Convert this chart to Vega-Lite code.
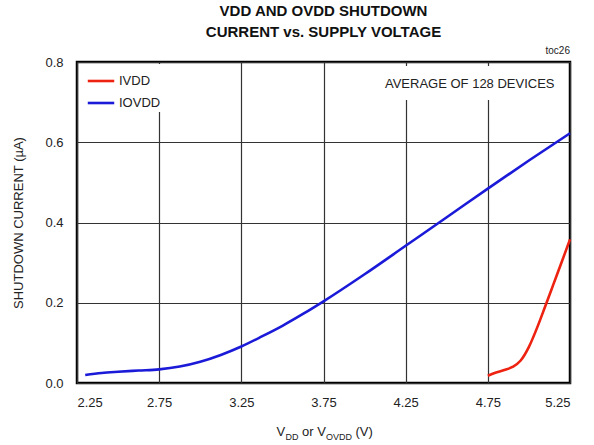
{
  "$schema": "https://vega.github.io/schema/vega-lite/v6.json",
  "autosize": "none",
  "width": 493,
  "height": 321,
  "padding": {"left": 77, "top": 62, "right": 24, "bottom": 62},
  "background": "white",
  "title": {
    "text": ["VDD AND OVDD SHUTDOWN", "CURRENT vs. SUPPLY VOLTAGE"],
    "font": "Liberation Sans",
    "fontWeight": "bold",
    "fontSize": 15,
    "lineHeight": 21,
    "color": "#111",
    "anchor": "middle",
    "frame": "group",
    "offset": 6
  },
  "config": {
    "view": {"stroke": "black", "strokeWidth": 2.5},
    "font": "Liberation Sans",
    "axis": {
      "labelFont": "Liberation Sans",
      "titleFont": "Liberation Sans",
      "labelFontSize": 13,
      "labelColor": "#222",
      "titleColor": "#222",
      "titleFontWeight": "normal",
      "ticks": false,
      "domain": false,
      "grid": true,
      "gridColor": "#333",
      "gridWidth": 1.2,
      "gridOpacity": 1
    }
  },
  "data": {
    "values": [
      {"v": 2.30, "i": 0.020, "series": "IOVDD"},
      {"v": 2.40, "i": 0.025, "series": "IOVDD"},
      {"v": 2.50, "i": 0.028, "series": "IOVDD"},
      {"v": 2.625, "i": 0.031, "series": "IOVDD"},
      {"v": 2.75, "i": 0.034, "series": "IOVDD"},
      {"v": 2.875, "i": 0.041, "series": "IOVDD"},
      {"v": 3.00, "i": 0.053, "series": "IOVDD"},
      {"v": 3.125, "i": 0.070, "series": "IOVDD"},
      {"v": 3.25, "i": 0.091, "series": "IOVDD"},
      {"v": 3.375, "i": 0.116, "series": "IOVDD"},
      {"v": 3.50, "i": 0.1425, "series": "IOVDD"},
      {"v": 3.625, "i": 0.172, "series": "IOVDD"},
      {"v": 3.75, "i": 0.2035, "series": "IOVDD"},
      {"v": 4.00, "i": 0.271, "series": "IOVDD"},
      {"v": 4.25, "i": 0.342, "series": "IOVDD"},
      {"v": 4.50, "i": 0.413, "series": "IOVDD"},
      {"v": 4.75, "i": 0.4845, "series": "IOVDD"},
      {"v": 5.00, "i": 0.5545, "series": "IOVDD"},
      {"v": 5.25, "i": 0.6225, "series": "IOVDD"},
      {"v": 4.75, "i": 0.018, "series": "IVDD"},
      {"v": 4.80, "i": 0.026, "series": "IVDD"},
      {"v": 4.85, "i": 0.0325, "series": "IVDD"},
      {"v": 4.90, "i": 0.040, "series": "IVDD"},
      {"v": 4.95, "i": 0.056, "series": "IVDD"},
      {"v": 5.00, "i": 0.090, "series": "IVDD"},
      {"v": 5.05, "i": 0.138, "series": "IVDD"},
      {"v": 5.10, "i": 0.192, "series": "IVDD"},
      {"v": 5.15, "i": 0.247, "series": "IVDD"},
      {"v": 5.20, "i": 0.302, "series": "IVDD"},
      {"v": 5.25, "i": 0.358, "series": "IVDD"}
    ]
  },
  "layer": [
    {
      "data": {"values": [{}]},
      "mark": {"type": "rect", "color": "white"},
      "encoding": {
        "x": {"datum": 4.10, "type": "quantitative", "scale": {"domain": [2.25, 5.25], "nice": false, "zero": false}},
        "x2": {"datum": 5.19},
        "y": {"datum": 0.705, "type": "quantitative"},
        "y2": {"datum": 0.79}
      }
    },
    {
      "data": {"values": [{}]},
      "mark": {"type": "text", "text": "AVERAGE OF 128 DEVICES", "fontSize": 13, "color": "#222", "align": "center", "baseline": "middle"},
      "encoding": {
        "x": {"datum": 4.64, "type": "quantitative"},
        "y": {"datum": 0.745, "type": "quantitative"}
      }
    },
    {
      "data": {"values": [{}]},
      "mark": {"type": "text", "text": "toc26", "fontSize": 10, "color": "#222", "align": "right", "baseline": "alphabetic", "dy": -8},
      "encoding": {
        "x": {"datum": 5.25, "type": "quantitative"},
        "y": {"datum": 0.8, "type": "quantitative"}
      }
    },
    {
      "data": {"values": [{}]},
      "mark": {"type": "text", "text": "V", "fontSize": 13, "color": "#222", "align": "left", "baseline": "alphabetic", "dx": -47, "dy": 53},
      "encoding": {"x": {"datum": 3.75, "type": "quantitative"}, "y": {"datum": 0, "type": "quantitative"}}
    },
    {
      "data": {"values": [{}]},
      "mark": {"type": "text", "text": "DD", "fontSize": 9, "color": "#222", "align": "left", "baseline": "alphabetic", "dx": -38, "dy": 57},
      "encoding": {"x": {"datum": 3.75, "type": "quantitative"}, "y": {"datum": 0, "type": "quantitative"}}
    },
    {
      "data": {"values": [{}]},
      "mark": {"type": "text", "text": "or V", "fontSize": 13, "color": "#222", "align": "left", "baseline": "alphabetic", "dx": -21.5, "dy": 53},
      "encoding": {"x": {"datum": 3.75, "type": "quantitative"}, "y": {"datum": 0, "type": "quantitative"}}
    },
    {
      "data": {"values": [{}]},
      "mark": {"type": "text", "text": "OVDD", "fontSize": 9, "color": "#222", "align": "left", "baseline": "alphabetic", "dx": 2.5, "dy": 57},
      "encoding": {"x": {"datum": 3.75, "type": "quantitative"}, "y": {"datum": 0, "type": "quantitative"}}
    },
    {
      "data": {"values": [{}]},
      "mark": {"type": "text", "text": "(V)", "fontSize": 13, "color": "#222", "align": "left", "baseline": "alphabetic", "dx": 32, "dy": 53},
      "encoding": {"x": {"datum": 3.75, "type": "quantitative"}, "y": {"datum": 0, "type": "quantitative"}}
    },
    {
      "mark": {"type": "line", "strokeWidth": 2.6, "interpolate": "monotone"},
      "encoding": {
        "x": {
          "field": "v", "type": "quantitative",
          "scale": {"domain": [2.25, 5.25], "nice": false, "zero": false},
          "axis": {"values": [2.25, 2.75, 3.25, 3.75, 4.25, 4.75, 5.25], "format": ".2f", "title": null, "labelPadding": 13}
        },
        "y": {
          "field": "i", "type": "quantitative",
          "scale": {"domain": [0, 0.8], "nice": false},
          "axis": {"values": [0, 0.2, 0.4, 0.6, 0.8], "format": ".1f", "title": "SHUTDOWN CURRENT (µA)", "titleFontSize": 13, "labelPadding": 14, "titlePadding": 19}
        },
        "color": {
          "field": "series", "type": "nominal",
          "scale": {"domain": ["IVDD", "IOVDD"], "range": ["#ee2211", "#1a1ad8"]},
          "legend": {
            "orient": "none", "legendX": 7, "legendY": 2, "title": null,
            "symbolType": "stroke", "symbolSize": 700, "symbolStrokeWidth": 2.6,
            "labelFontSize": 13, "labelColor": "#222", "labelOffset": 3,
            "fillColor": "white", "padding": 2, "rowPadding": -5
          }
        },
        "detail": {"field": "series"}
      }
    }
  ]
}
